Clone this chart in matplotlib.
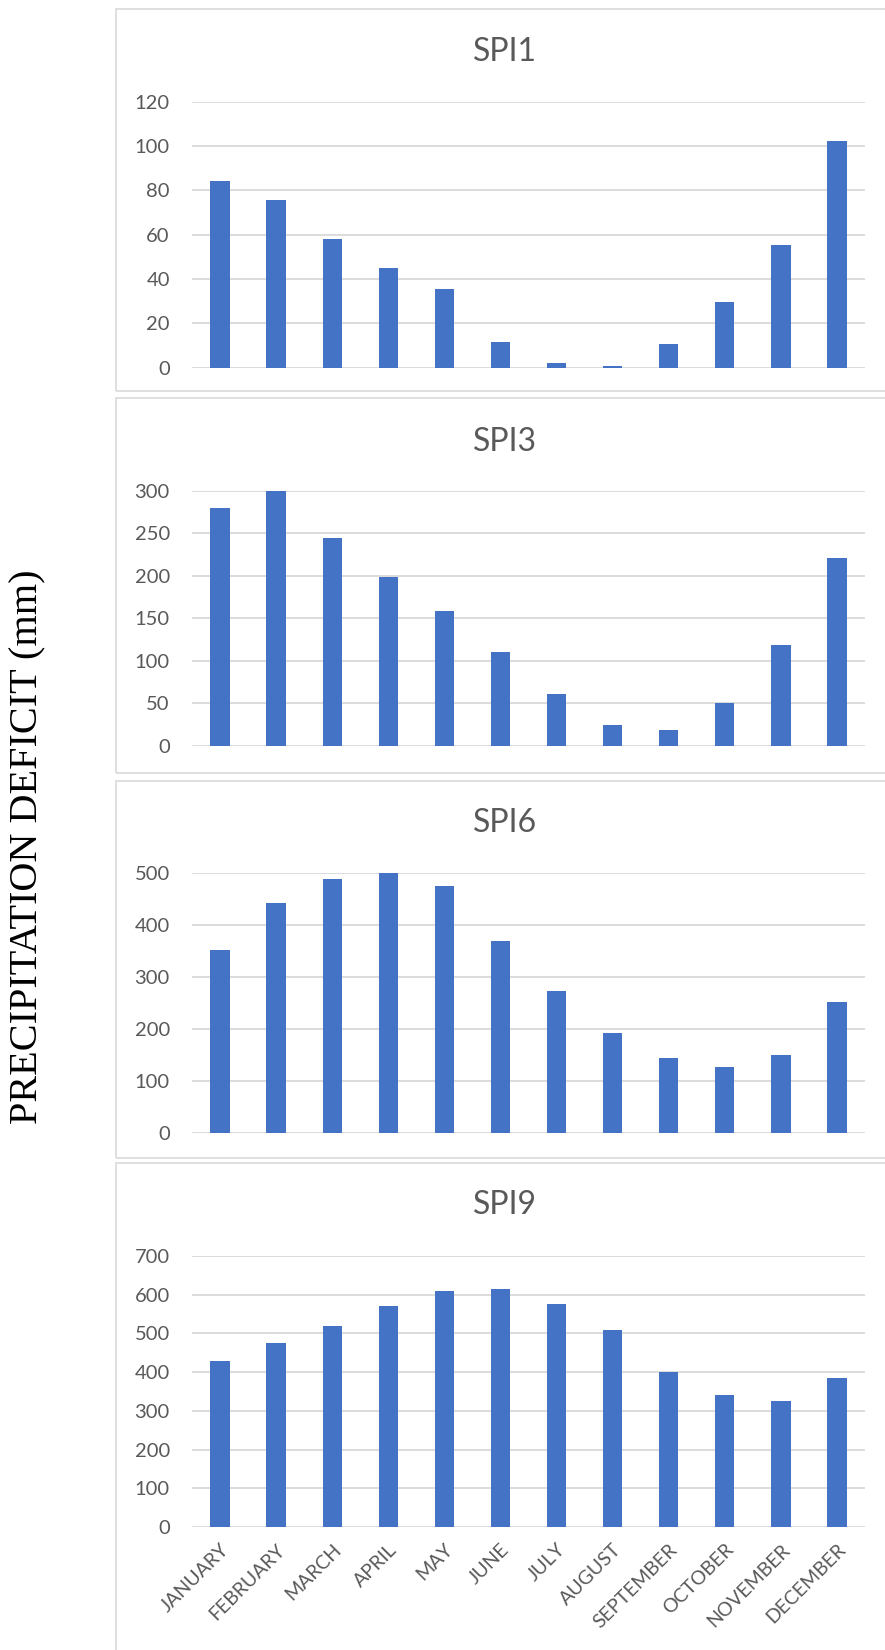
import matplotlib
matplotlib.use("Agg")
import matplotlib.pyplot as plt
from matplotlib.patches import Rectangle

months = ["JANUARY", "FEBRUARY", "MARCH", "APRIL", "MAY", "JUNE", "JULY",
          "AUGUST", "SEPTEMBER", "OCTOBER", "NOVEMBER", "DECEMBER"]
titles = ["SPI1", "SPI3", "SPI6", "SPI9"]
spi1 = [84.4, 75.5, 58.0, 45.0, 35.6, 11.6, 2.0, 0.8, 10.5, 29.6, 55.2, 102.3]
spi3 = [280, 300, 244, 199, 159, 110, 61, 24, 19, 50, 118, 221]
spi6 = [351, 441, 488, 500, 474, 369, 273, 192, 143, 126, 150, 252]
spi9 = [430, 474, 520, 571, 610, 615, 576, 508, 401, 342, 326, 386]
series = [spi1, spi3, spi6, spi9]
ymax = [120, 300, 500, 700]
ystep = [20, 50, 100, 100]

W, H = 885, 1650
BAR = "#4472C4"
GRID = "#D9D9D9"
TXT = "#595959"

# pixel layout of each chart box: (box top, box bottom, axis top, axis bottom, title centre)
layout = [
    (9, 391, 101.7, 367.7, 52),
    (398, 773, 490.7, 745.7, 442),
    (781, 1158, 872.7, 1132.7, 823),
    (1163, 1660, 1256, 1527, 1205),
]
x_left, x_right = 192, 865

fig = plt.figure(figsize=(W / 100, H / 100), dpi=100)


def fy(px):
    return 1 - px / H


for i, (btop, bbot, atop, abot, tc) in enumerate(layout):
    # chart box outline
    fig.patches.append(Rectangle((116 / W, fy(bbot)), (W + 10 - 116) / W,
                                 (bbot - btop) / H, transform=fig.transFigure,
                                 fill=False, edgecolor=GRID, linewidth=1.2,
                                 zorder=0))
    ax = fig.add_axes([x_left / W, fy(abot), (x_right - x_left) / W,
                       (abot - atop) / H])
    x = list(range(len(months)))
    ax.bar(x, series[i], width=0.345, color=BAR, zorder=2)
    ax.set_xlim(-0.5, 11.5)
    ax.set_ylim(0, ymax[i])
    ax.set_yticks(list(range(0, ymax[i] + 1, ystep[i])))
    ax.yaxis.grid(True, color=GRID, linewidth=1.3)
    ax.set_axisbelow(True)
    for s in ax.spines.values():
        s.set_visible(False)
    ax.tick_params(axis="y", length=0, pad=16, labelsize=14.5, labelcolor=TXT)
    for lab in ax.get_yticklabels():
        lab.set_family("Lato")
    ax.set_xticks(x)
    if i == 3:
        ax.set_xticklabels(months, rotation=45, ha="right",
                           rotation_mode="anchor", family="Lato",
                           fontsize=14, color=TXT)
        ax.tick_params(axis="x", length=0, pad=10)
    else:
        ax.set_xticklabels([])
        ax.tick_params(axis="x", length=0)
    fig.text(505 / W, fy(tc), titles[i], ha="center", va="center",
             family="Lato", fontsize=23, color=TXT)

fig.text(28 / W, fy(847), "PRECIPITATION DEFICIT (mm)", rotation=90,
         ha="center", va="center", family="Liberation Serif", fontsize=29,
         color="black")

fig.savefig("out.png", dpi=100, facecolor="white")
